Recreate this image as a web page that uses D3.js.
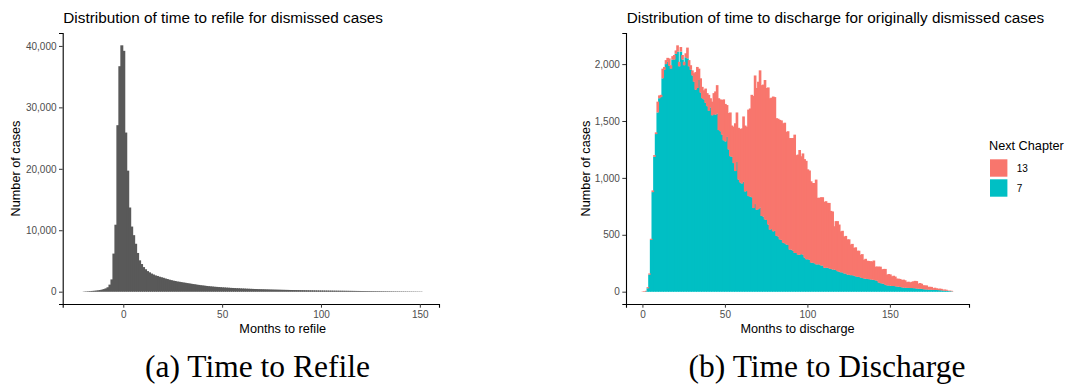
<!DOCTYPE html>
<html>
<head>
<meta charset="utf-8">
<script src="https://cdn.jsdelivr.net/npm/d3@7"></script>
<style>
  body { margin: 0; background: #fff; }
  svg { display: block; font-family: 'Liberation Sans', Arial, sans-serif; }
  .tick text { fill: #4d4d4d; font-size: 10px; }
  .tick line { stroke: #333; stroke-width: 1; }
  .domain { stroke: #000; stroke-width: 1.1; }
  .title { font-size: 15.3px; fill: #000; }
  .axis-title { font-size: 12.7px; fill: #000; }
  .caption { font-family: 'Liberation Serif', 'Times New Roman', serif; font-size: 31.5px; fill: #000; }
</style>
</head>
<body>
<svg id="chart" width="1065" height="387"></svg>
<script>
// monthly bins, centred on whole months
const refileStart = -20;
const refileCounts = [
  40, 55, 75, 95, 120, 145, 175, 215, 265, 330,
  420, 540, 720, 1150, 2000, 6200, 10900, 27100, 36700, 40100,
  39200, 25900, 19700, 13700, 10600, 9200, 7800, 6300, 5100, 4500,
  4000, 3650, 3350, 3150, 2950, 2800, 2650, 2560, 2440, 2350,
  2260, 2150, 2060, 1960, 1880, 1800, 1740, 1660, 1620, 1560,
  1500, 1460, 1400, 1350, 1300, 1240, 1200, 1140, 1100, 1050,
  1010, 975, 930, 895, 860, 835, 800, 780, 750, 730,
  700, 685, 660, 645, 620, 605, 585, 565, 555, 535,
  520, 510, 490, 480, 465, 455, 440, 430, 415, 405,
  395, 388, 375, 368, 355, 348, 338, 332, 322, 316,
  306, 300, 291, 286, 277, 272, 264, 260, 252, 248,
  240, 236, 228, 224, 217, 214, 207, 204, 197, 194,
  188, 186, 180, 178, 172, 170, 164, 162, 157, 155,
  150, 148, 142, 140, 134, 132, 126, 124, 118, 116,
  110, 108, 102, 100, 95, 93, 89, 87, 83, 81,
  77, 75, 71, 69, 65, 63, 59, 57, 54, 52,
  50, 48, 46, 44, 42, 40, 38, 36, 34, 32,
  30, 27
];

const dischargeStart = 0;
const chapter7Counts = [
  0, 0, 5, 30, 150, 455, 875, 1185, 1385, 1575,
  1700, 1710, 1875, 1950, 2000, 2020, 1985, 1960, 2040, 2040,
  2090, 2110, 1980, 2110, 2040, 1990, 2060, 2050, 1980, 1950,
  1900, 1845, 1775, 1790, 1860, 1750, 1700, 1690, 1660, 1630,
  1590, 1620, 1550, 1560, 1555, 1565, 1420, 1410, 1380, 1330,
  1320, 1360, 1250, 1190, 1185, 1130, 1060, 1140, 985, 960,
  950, 965, 880, 885, 840, 835, 830, 735, 770, 720,
  725, 740, 665, 660, 635, 630, 590, 545, 550, 530,
  535, 490, 485, 460, 455, 430, 425, 415, 410, 370,
  370, 360, 340, 340, 325, 325, 330, 325, 300, 285,
  285, 280, 255, 255, 250, 240, 240, 240, 230, 230,
  210, 210, 210, 205, 200, 195, 195, 190, 180, 175,
  170, 170, 160, 160, 150, 150, 145, 145, 140, 135,
  130, 130, 125, 120, 116, 114, 112, 110, 108, 106,
  104, 100, 96, 80, 75, 72, 70, 60, 55, 55,
  52, 50, 50, 48, 45, 44, 42, 38, 36, 35,
  34, 33, 32, 32, 31, 30, 28, 26, 26, 25,
  22, 20, 20, 18, 18, 17, 16, 15, 15, 14,
  13, 12, 10, 9, 8, 6, 5, 4, 0
];
const chapter13Counts = [
  3, 5, 3, 10, 10, 10, 15, 15, 15, 95,
  25, 20, 85, 25, 35, 35, 65, 30, 30, 40,
  30, 55, 40, 40, 40, 30, 35, 95, 55, 40,
  45, 75, 155, 185, 100, 125, 100, 80, 125, 115,
  140, 80, 120, 185, 205, 250, 280, 280, 305, 360,
  330, 280, 320, 385, 275, 320, 420, 435, 455, 470,
  485, 575, 580, 565, 760, 775, 900, 985, 1130, 1070,
  1120, 1205, 1150, 1160, 1225, 1160, 1205, 1155, 1155, 1185,
  1175, 1035, 1035, 1050, 1050, 1050, 1060, 990, 1000, 980,
  980, 990, 1040, 860, 880, 920, 860, 890, 865, 865,
  790, 785, 715, 700, 705, 745, 585, 585, 600, 600,
  580, 585, 570, 575, 510, 510, 380, 430, 440, 415,
  360, 365, 325, 330, 310, 310, 270, 275, 245, 255,
  230, 230, 200, 210, 165, 175, 160, 160, 160, 160,
  170, 120, 125, 140, 145, 125, 130, 140, 95, 100,
  100, 85, 90, 85, 70, 70, 70, 65, 70, 65,
  50, 55, 50, 55, 60, 65, 65, 45, 50, 45,
  35, 35, 35, 25, 25, 25, 15, 20, 15, 12,
  14, 13, 8, 10, 9, 3, 4, 4, 3
];

const chapters = ['13', '7'];
const chapterColors = ['#F8766D', '#00BFC4'];
const monthTicks = [0, 50, 100, 150];
const refileTicks = [0, 10000, 20000, 30000, 40000];
const dischargeTicks = [0, 500, 1000, 1500, 2000];

// bars overlap the next one a little so no antialiasing seams show
const overlap = 1;

const svg = d3.select('#chart');
svg.append('rect').attr('width', 1065).attr('height', 387).attr('fill', '#fff');

function drawAxes(x, y, xTicks, yTicks, left, bottom) {
  svg.append('g')
    .attr('transform', `translate(0,${bottom})`)
    .call(d3.axisBottom(x).tickValues(xTicks).tickSizeOuter(0).tickSize(3.7).tickPadding(3.5));
  svg.append('g')
    .attr('transform', `translate(${left},0)`)
    .call(d3.axisLeft(y).tickValues(yTicks).tickFormat(d3.format(',')).tickSizeOuter(0).tickSize(3.7).tickPadding(2.5));
}

// ---- (a) time to refile
const refile = refileCounts.map((v, i) => ({ month: refileStart + i, count: v }));
const xA = d3.scaleLinear().domain([-30.65, 159.7]).range([62.7, 439]);
const maxA = d3.max(refileCounts);
const yA = d3.scaleLinear().domain([-0.05 * maxA, 1.05 * maxA]).range([304, 33]);

svg.append('g')
  .selectAll('rect')
  .data(refile)
  .enter()
  .append('rect')
  .attr('x', (d) => xA(d.month - 0.5))
  .attr('width', (d, i) => xA(d.month + 0.5) - xA(d.month - 0.5) + (i < refile.length - 1 ? overlap : 0))
  .attr('y', (d) => yA(d.count))
  .attr('height', (d) => yA(0) - yA(d.count))
  .attr('fill', '#595959');

drawAxes(xA, yA, monthTicks, refileTicks, 62.7, 304);

svg.append('text').attr('class', 'title').attr('x', 63.3).attr('y', 23)
  .text('Distribution of time to refile for dismissed cases');
svg.append('text').attr('class', 'axis-title').attr('x', 282.7).attr('y', 332.5)
  .attr('text-anchor', 'middle').text('Months to refile');
svg.append('text').attr('class', 'axis-title')
  .attr('transform', 'translate(20,168.5) rotate(-90)')
  .attr('text-anchor', 'middle').text('Number of cases');

// ---- (b) time to discharge, stacked by next chapter
const discharge = chapter7Counts.map((v, i) => ({
  month: dischargeStart + i,
  '7': v,
  '13': chapter13Counts[i],
}));
const stack = d3.stack().keys(['7', '13'])(discharge);
const xB = d3.scaleLinear().domain([-9.95, 197.95]).range([626, 969]);
const maxB = d3.max(discharge, (d) => d['7'] + d['13']);
const yB = d3.scaleLinear().domain([-0.05 * maxB, 1.05 * maxB]).range([304, 33]);
const color = d3.scaleOrdinal().domain(chapters).range(chapterColors);

svg.append('g')
  .selectAll('g')
  .data(stack)
  .enter()
  .append('g')
  .attr('fill', (s) => color(s.key))
  .selectAll('rect')
  .data((s) => s)
  .enter()
  .append('rect')
  .attr('x', (d) => xB(d.data.month - 0.5))
  .attr('width', (d, i) => xB(d.data.month + 0.5) - xB(d.data.month - 0.5) + (i < discharge.length - 1 ? overlap : 0))
  .attr('y', (d) => yB(d[1]))
  .attr('height', (d) => yB(d[0]) - yB(d[1]));

drawAxes(xB, yB, monthTicks, dischargeTicks, 626, 304);

svg.append('text').attr('class', 'title').attr('x', 626.7).attr('y', 23)
  .text('Distribution of time to discharge for originally dismissed cases');
svg.append('text').attr('class', 'axis-title').attr('x', 797.5).attr('y', 332.5)
  .attr('text-anchor', 'middle').text('Months to discharge');
svg.append('text').attr('class', 'axis-title')
  .attr('transform', 'translate(590,168.5) rotate(-90)')
  .attr('text-anchor', 'middle').text('Number of cases');

// legend
svg.append('text').attr('class', 'axis-title').attr('x', 989).attr('y', 150).text('Next Chapter');
const legend = svg.append('g');
legend.selectAll('rect')
  .data(chapters)
  .enter()
  .append('rect')
  .attr('x', 990)
  .attr('y', (d, i) => 159.3 + i * 20)
  .attr('width', 17.4)
  .attr('height', 17.4)
  .attr('fill', (d) => color(d));
legend.selectAll('text')
  .data(chapters)
  .enter()
  .append('text')
  .attr('x', 1016.7)
  .attr('y', (d, i) => 168 + i * 20)
  .attr('dy', '0.35em')
  .attr('font-size', '10px')
  .attr('fill', '#000')
  .text((d) => d);

// sub-figure captions
svg.append('text').attr('class', 'caption').attr('x', 257.5).attr('y', 377)
  .attr('text-anchor', 'middle').text('(a) Time to Refile');
svg.append('text').attr('class', 'caption').attr('x', 827).attr('y', 377)
  .attr('text-anchor', 'middle').text('(b) Time to Discharge');
</script>
</body>
</html>
